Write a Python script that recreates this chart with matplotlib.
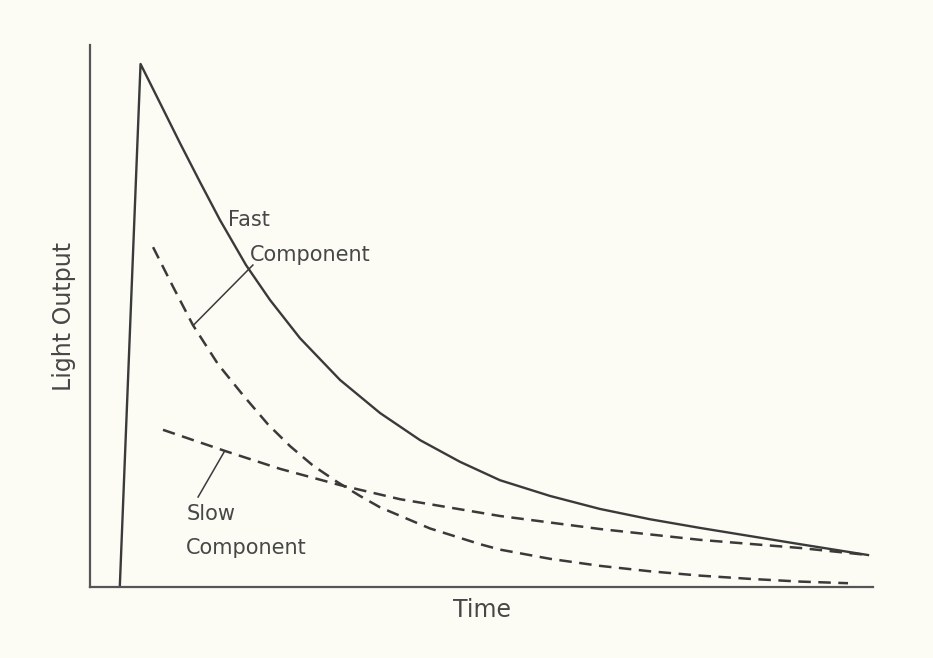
import matplotlib
matplotlib.use("Agg")
import matplotlib.pyplot as plt

# light output vs time (arbitrary units 0-100)
total_t = [3.8, 6.45, 8.94, 11.49, 14.05, 16.6, 19.92, 22.99, 26.82, 31.93, 37.04, 42.15,
           47.25, 52.36, 58.75, 65.13, 71.52, 77.91, 84.29, 90.68, 99.36]
total_y = [0.0, 96.5, 89.3, 81.9, 74.7, 67.7, 59.4, 52.95, 45.9, 38.2, 32.1, 27.1,
           23.1, 19.7, 16.8, 14.4, 12.5, 10.9, 9.4, 7.9, 5.9]

fast_t = [8.05, 10.6, 13.15, 16.35, 19.54, 22.73, 25.54, 28.48, 31.55, 34.48, 37.04,
          43.42, 49.81, 52.36, 58.75, 65.13, 71.52, 77.91, 84.29, 90.68, 96.81]
fast_y = [62.7, 55.4, 48.3, 41.1, 35.4, 30.0, 26.0, 22.4, 19.4, 16.8, 14.7,
          10.8, 7.9, 6.9, 5.2, 3.9, 2.9, 2.1, 1.5, 1.0, 0.7]

slow_t = [9.32, 17.24, 24.27, 31.93, 39.59, 52.36, 65.13, 77.91, 90.68, 99.36]
slow_y = [29.0, 25.1, 21.8, 18.8, 16.2, 13.1, 10.7, 8.7, 7.2, 5.9]

bg = "#fcfcf5"
ink = "#3a3a3a"
txt = "#474747"

fig = plt.figure(figsize=(9.33, 6.58), dpi=100, facecolor=bg)
ax = fig.add_axes([0.0965, 0.1079, 0.8392, 0.8237], facecolor=bg)

ax.plot(total_t, total_y, color=ink, lw=1.7, solid_joinstyle="round")
ax.plot(fast_t, fast_y, color=ink, lw=1.8, dashes=(5, 3))
ax.plot(slow_t, slow_y, color=ink, lw=1.8, dashes=(5, 3))

# labels with leader lines
ax.text(17.6, 67.7, "Fast", fontsize=15, color=txt, va="center", ha="left")
ax.text(20.4, 61.3, "Component", fontsize=15, color=txt, va="center", ha="left")
ax.plot([20.8, 13.2], [59.4, 48.3], color=ink, lw=1.1)

ax.text(12.3, 13.5, "Slow", fontsize=15, color=txt, va="center", ha="left")
ax.text(12.3, 7.2, "Component", fontsize=15, color=txt, va="center", ha="left")
ax.plot([17.2, 13.8], [25.1, 16.6], color=ink, lw=1.1)

ax.set_xlim(0, 100)
ax.set_ylim(0, 100)
ax.set_xticks([])
ax.set_yticks([])
for s in ["top", "right"]:
    ax.spines[s].set_visible(False)
for s in ["left", "bottom"]:
    ax.spines[s].set_color("#555555")
    ax.spines[s].set_linewidth(1.6)

ax.set_xlabel("Time", fontsize=17, color=txt, labelpad=8)
ax.set_ylabel("Light Output", fontsize=17, color=txt, labelpad=10)

fig.savefig("out.png", dpi=100, facecolor=bg)
